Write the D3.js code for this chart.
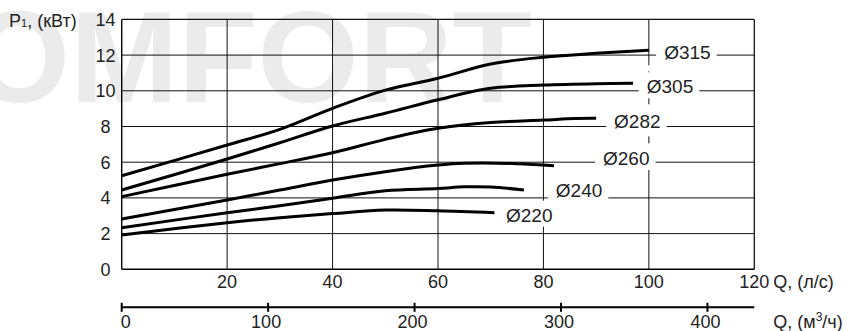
<!DOCTYPE html>
<html><head><meta charset="utf-8">
<script src="https://cdn.jsdelivr.net/npm/d3@7"></script>
<style>
html,body{margin:0;padding:0;background:#fff;}
svg{display:block;font-family:"Liberation Sans",Arial,sans-serif;}
</style></head>
<body>
<svg id="c" width="863" height="331"></svg>
<script>
// ---- data ----
const seriesNames = ["Ø315","Ø305","Ø282","Ø260","Ø240","Ø220"];
const q315 = [0,20,30,40,50,60,70,80,90,100];
const p315 = [5.24,6.96,7.84,9.02,10.04,10.7,11.5,11.88,12.1,12.27];
const q305 = [0,20,30,40,50,60,70,80,90,97];
const p305 = [4.44,6.18,7.09,8.03,8.74,9.5,10.14,10.32,10.4,10.42];
const q282 = [0,20,30,40,50,60,70,80,86,90];
const p282 = [4.07,5.32,5.92,6.53,7.28,7.9,8.22,8.36,8.45,8.46];
const q260 = [0,20,30,40,50,60,65,75,82];
const p260 = [2.82,3.88,4.44,5.0,5.47,5.84,5.94,5.92,5.8];
const q240 = [0,20,30,40,50,60,65,70,76.3];
const p240 = [2.33,3.17,3.56,3.98,4.4,4.52,4.62,4.61,4.44];
const q220 = [0,20,30,40,50,60,70.7];
const p220 = [1.92,2.61,2.89,3.12,3.32,3.28,3.17];
// label anchors (data units: Q l/s, P kW)
const labelQ = [102.9,99.6,93.4,91.3,82.35,72.9];
const labelP = [11.78,9.86,7.93,5.84,4.07,2.67];
const xTicks = [20,40,60,80,100,120];
const yTicks = [0,2,4,6,8,10,12,14];
const m3Ticks = [0,100,200,300,400];
const yTitle = "P1, (кВт)";
const xTitle = "Q, (л/с)";
const x2Title = "Q, (м3/ч)";
const watermark = "COMFORT";

// ---- layout ----
const svg = d3.select("#c");
const x = d3.scaleLinear().domain([0,120]).range([121.7,754.3]);
const y = d3.scaleLinear().domain([0,14]).range([269.3,19.4]);
const xm = d3.scaleLinear().domain([0,120*3.6]).range([121.7,754.3]);

// watermark
svg.append("text").attr("x",532).attr("y",102)
  .attr("text-anchor","end").attr("font-size",130).attr("font-weight","bold")
  .attr("fill","#ebebeb").text(watermark);

const g = svg.append("g");
// horizontal grid
g.selectAll("line.h").data(yTicks.filter(d=>d>0)).join("line")
  .attr("x1",x(0)).attr("x2",x(120)).attr("y1",d=>y(d)).attr("y2",d=>y(d))
  .attr("stroke","#111").attr("stroke-width",d=>d===14?1.3:1);
// vertical grid (100 drawn separately)
g.selectAll("line.v").data(xTicks.filter(d=>d!==100)).join("line")
  .attr("x1",d=>x(d)).attr("x2",d=>x(d)).attr("y1",y(0)).attr("y2",y(14))
  .attr("stroke","#111").attr("stroke-width",d=>d===120?1.3:1);
// the 100 l/s line: solid ends, dashed through the label zone
[[0,5.6,null],[5.6,11.6,"7,6"],[11.6,14,null]].forEach(([a,b,dash])=>{
  g.append("line").attr("x1",x(100)).attr("x2",x(100)).attr("y1",y(a)).attr("y2",y(b))
   .attr("stroke","#111").attr("stroke-width",1).attr("stroke-dasharray",dash);
});
// axes frame left/bottom
g.append("line").attr("x1",x(0)).attr("x2",x(0)).attr("y1",y(0)).attr("y2",y(14)).attr("stroke","#000").attr("stroke-width",1.4);
g.append("line").attr("x1",x(0)).attr("x2",x(120)).attr("y1",y(0)).attr("y2",y(0)).attr("stroke","#000").attr("stroke-width",1.4);

// curves
const line = d3.line().x(d=>x(d[0])).y(d=>y(d[1])).curve(d3.curveCatmullRom.alpha(0.5));
const series = [[q315,p315],[q305,p305],[q282,p282],[q260,p260],[q240,p240],[q220,p220]];
series.forEach(([qs,ps])=>{
  g.append("path").datum(qs.map((q,i)=>[q,ps[i]])).attr("d",line)
   .attr("fill","none").attr("stroke","#000").attr("stroke-width",3).attr("stroke-linecap","butt");
});

// labels with white boxes
const lg = svg.append("g");
seriesNames.forEach((n,i)=>{
  const t = lg.append("text").attr("x",x(labelQ[i])).attr("y",y(labelP[i]))
    .attr("font-size",19).attr("fill","#222").text(n);
  const b = t.node().getBBox();
  lg.insert("rect","text").attr("x",b.x-8).attr("y",b.y-4)
    .attr("width",b.width+14).attr("height",b.height+5).attr("fill","#fff");
});
lg.selectAll("text").raise();

// y tick labels
svg.selectAll("text.yt").data(yTicks).join("text").attr("class","yt")
  .attr("x",105.5).attr("y",d=>y(d)+6.5).attr("text-anchor","middle")
  .attr("font-size",18).attr("fill","#222").text(d=>d);
// x tick labels
svg.selectAll("text.xt").data(xTicks).join("text").attr("class","xt")
  .attr("x",d=>x(d)).attr("y",288).attr("text-anchor","middle")
  .attr("font-size",18).attr("fill","#222").text(d=>d);
// y title
const yt = svg.append("text").attr("x",9).attr("y",27).attr("font-size",18).attr("fill","#222");
yt.append("tspan").text(yTitle.slice(0,1));
yt.append("tspan").attr("font-size",11).text(yTitle.slice(1,2));
yt.append("tspan").text(yTitle.slice(2));
// x title
svg.append("text").attr("x",x(120)+19).attr("y",288).attr("font-size",18).attr("fill","#222").text(xTitle);

// second axis m3/h
const ay = 307.3;
svg.append("line").attr("x1",xm(0)).attr("x2",xm(432)).attr("y1",ay).attr("y2",ay).attr("stroke","#000").attr("stroke-width",2);
svg.selectAll("line.mt").data(m3Ticks).join("line")
  .attr("x1",d=>xm(d)).attr("x2",d=>xm(d)).attr("y1",ay-4.5).attr("y2",ay+4.5)
  .attr("stroke","#000").attr("stroke-width",2);
svg.selectAll("text.mtl").data(m3Ticks).join("text").attr("class","mtl")
  .attr("x",d=>d===0?xm(d)-1:xm(d)-2).attr("y",328)
  .attr("text-anchor",d=>d===0?"start":"middle")
  .attr("font-size",18).attr("fill","#222").text(d=>d);
const x2 = svg.append("text").attr("x",x(120)+19).attr("y",328).attr("font-size",18).attr("fill","#222");
x2.append("tspan").text(x2Title.slice(0,5));
x2.append("tspan").attr("font-size",12).attr("dy",-7).text(x2Title.slice(5,6));
x2.append("tspan").attr("dy",7).text(x2Title.slice(6));
</script>
</body></html>
